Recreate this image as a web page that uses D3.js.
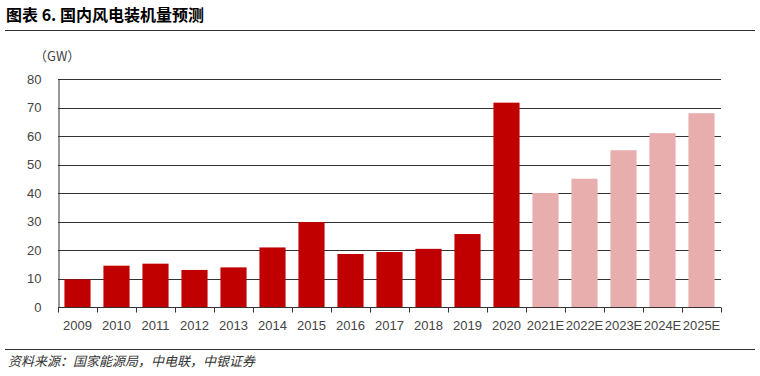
<!DOCTYPE html>
<html><head><meta charset="utf-8">
<script src="https://cdn.jsdelivr.net/npm/d3@7/dist/d3.min.js"></script>
<style>
body{margin:0;background:#fff;}
svg{display:block;}
</style></head>
<body>
<svg id="chart" width="760" height="376"></svg>
<script>
const categories = ["2009","2010","2011","2012","2013","2014","2015","2016","2017","2018","2019","2020","2021E","2022E","2023E","2024E","2025E"];
const values = [9.7,14.5,15.2,13.0,13.9,20.9,29.8,18.6,19.3,20.4,25.6,71.7,40,45,55,61,68];
const forecast = [false,false,false,false,false,false,false,false,false,false,false,false,true,true,true,true,true];
const yTicks = [0,10,20,30,40,50,60,70,80];

const svg = d3.select("#chart");
const m = {left:58, right:39, top:79, bottom:69};
const W = 760, H = 376;
const x = d3.scaleBand().domain(categories).range([m.left, W - m.right]).paddingInner(0.33).paddingOuter(0.165);
const y = d3.scaleLinear().domain([0,80]).range([H - m.bottom, m.top]);

const num = "'Liberation Sans', Arial, sans-serif";
const cjk = "'Noto Sans CJK SC', sans-serif";

// title
svg.append("text").attr("x",6).attr("y",21).attr("font-family",cjk).attr("font-weight","bold")
  .attr("font-size",16).attr("fill","#000").text("图表 6. 国内风电装机量预测");
svg.append("line").attr("x1",5).attr("x2",755).attr("y1",30.5).attr("y2",30.5).attr("stroke","#333").attr("stroke-width",1);

// unit
svg.append("text").attr("x",34).attr("y",61).attr("font-family",cjk).attr("font-size",13).attr("fill","#444").text("（GW）");

// gridlines
svg.append("g").selectAll("line").data(yTicks.filter(d=>d>0)).join("line")
  .attr("x1",m.left).attr("x2",W-m.right)
  .attr("y1",d=>Math.round(y(d))+0.5).attr("y2",d=>Math.round(y(d))+0.5)
  .attr("stroke","#333").attr("stroke-width",1);

// bars
svg.append("g").selectAll("rect").data(categories).join("rect")
  .attr("x",d=>x(d)).attr("width",x.bandwidth())
  .attr("y",(d,i)=>y(values[i])).attr("height",(d,i)=>y(0)-y(values[i]))
  .attr("fill",(d,i)=>forecast[i] ? "#E8ADAD" : "#C00000");

// y axis
const yAxis = d3.axisLeft(y).tickValues(yTicks).tickSize(0).tickPadding(17);
const gy = svg.append("g").attr("transform",`translate(${m.left+0.5},0)`).call(yAxis);
gy.select(".domain").attr("stroke","#333");
gy.selectAll("text").attr("font-family",num).attr("font-size",13).attr("fill","#444");

// x axis
const gx = svg.append("g").attr("transform",`translate(0,${Math.round(y(0))+0.5})`);
gx.append("line").attr("x1",m.left).attr("x2",W-m.right).attr("stroke","#333");
const step = x.step();
const boundaries = d3.range(categories.length+1).map(i => m.left + i*step);
gx.selectAll("line.tk").data(boundaries).join("line").attr("class","tk")
  .attr("x1",d=>Math.round(d)+0.5).attr("x2",d=>Math.round(d)+0.5).attr("y1",0).attr("y2",5).attr("stroke","#333");
gx.selectAll("text").data(categories).join("text")
  .attr("x",d=>x(d)+x.bandwidth()/2).attr("y",22.5)
  .attr("text-anchor","middle").attr("font-family",num).attr("font-size",13).attr("fill","#444").text(d=>d);

// source
svg.append("line").attr("x1",5).attr("x2",755).attr("y1",349.5).attr("y2",349.5).attr("stroke","#333").attr("stroke-width",1);
svg.append("text").attr("x",8).attr("y",366).attr("font-family",cjk).attr("font-size",13).attr("font-style","italic")
  .attr("fill","#333").text("资料来源：国家能源局，中电联，中银证券");
</script>
</body></html>
